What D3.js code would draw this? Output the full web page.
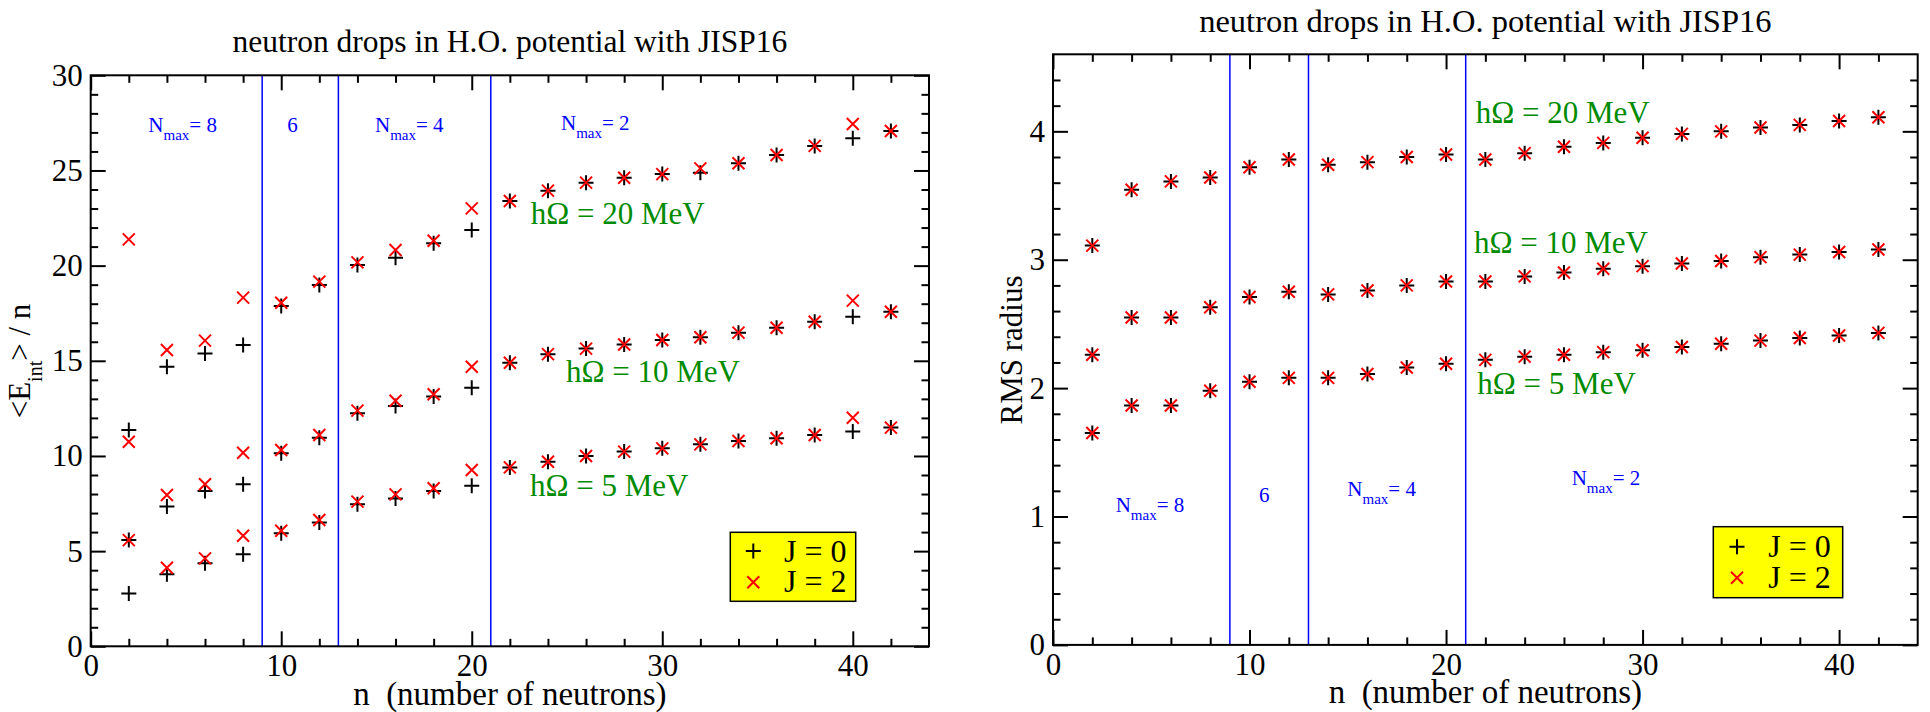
<!DOCTYPE html>
<html>
<head>
<meta charset="utf-8">
<script src="https://cdn.jsdelivr.net/npm/d3@7"></script>
<style>
  body { margin: 0; background: #fff; }
  text { font-family: "Liberation Serif", "Times New Roman", Times, serif; }
</style>
</head>
<body>
<svg id="chart" width="1930" height="712"></svg>
<script>
// Number of neutrons in the drop
const neutrons = [2, 4, 6, 8, 10, 12, 14, 16, 18, 20, 22, 24, 26, 28, 30, 32, 34, 36, 38, 40, 42];

// Internal energy per neutron <E_int>/n (MeV), by oscillator strength and total J
const energy20J0 = [11.36, 14.69, 15.39, 15.83, 17.88, 18.98, 20.03, 20.42, 21.17, 21.87, 23.40, 23.94, 24.36, 24.62, 24.81, 24.88, 25.38, 25.81, 26.29, 26.69, 27.07];
const energy20J2 = [21.38, 15.57, 16.06, 18.32, 18.05, 19.16, 20.17, 20.82, 21.31, 23.01, 23.40, 23.94, 24.36, 24.62, 24.81, 25.11, 25.38, 25.81, 26.29, 27.44, 27.07];
const energy10J0 = [5.58, 7.34, 8.16, 8.51, 10.14, 10.96, 12.24, 12.63, 13.12, 13.59, 14.90, 15.35, 15.64, 15.86, 16.09, 16.24, 16.48, 16.74, 17.05, 17.32, 17.58];
const energy10J2 = [10.75, 7.95, 8.51, 10.17, 10.31, 11.10, 12.38, 12.90, 13.24, 14.69, 14.90, 15.35, 15.64, 15.86, 16.09, 16.24, 16.48, 16.74, 17.05, 18.16, 17.58];
const energy5J0 = [2.78, 3.78, 4.36, 4.83, 5.94, 6.50, 7.46, 7.77, 8.16, 8.44, 9.40, 9.70, 10.00, 10.23, 10.40, 10.61, 10.79, 10.93, 11.10, 11.28, 11.49];
const energy5J2 = [5.58, 4.13, 4.62, 5.81, 6.07, 6.64, 7.60, 7.98, 8.30, 9.26, 9.40, 9.70, 10.00, 10.23, 10.40, 10.61, 10.79, 10.93, 11.10, 12.01, 11.49];

// RMS radius (fm), by oscillator strength and total J
const radius20J0 = [3.11, 3.545, 3.61, 3.64, 3.72, 3.78, 3.74, 3.76, 3.80, 3.82, 3.78, 3.83, 3.88, 3.91, 3.95, 3.98, 4.00, 4.03, 4.05, 4.08, 4.11];
const radius20J2 = [3.11, 3.545, 3.61, 3.64, 3.72, 3.78, 3.74, 3.76, 3.80, 3.82, 3.78, 3.83, 3.88, 3.91, 3.95, 3.98, 4.00, 4.03, 4.05, 4.08, 4.11];
const radius10J0 = [2.26, 2.55, 2.55, 2.63, 2.71, 2.75, 2.73, 2.76, 2.80, 2.83, 2.83, 2.87, 2.90, 2.93, 2.95, 2.97, 2.99, 3.02, 3.04, 3.06, 3.08];
const radius10J2 = [2.26, 2.55, 2.55, 2.63, 2.71, 2.75, 2.73, 2.76, 2.80, 2.83, 2.83, 2.87, 2.90, 2.93, 2.95, 2.97, 2.99, 3.02, 3.04, 3.06, 3.08];
const radius5J0 = [1.65, 1.865, 1.865, 1.98, 2.05, 2.08, 2.08, 2.11, 2.16, 2.19, 2.22, 2.245, 2.26, 2.28, 2.295, 2.32, 2.345, 2.37, 2.39, 2.41, 2.43];
const radius5J2 = [1.65, 1.865, 1.865, 1.98, 2.05, 2.08, 2.08, 2.11, 2.16, 2.19, 2.22, 2.245, 2.26, 2.28, 2.295, 2.32, 2.345, 2.37, 2.39, 2.41, 2.43];

// Boundaries between model-space truncations, and their labels
const nmaxBoundaries = [9, 13, 21];
const nmaxLabels = ["8", "6", "4", "2"];
const hwLabels = ["20", "10", "5"];
const legendLabels = ["J = 0", "J = 2"];

// Tick values
const xMajorTicks = [0, 10, 20, 30, 40];
const xMinorTicks = [2, 4, 6, 8, 12, 14, 16, 18, 22, 24, 26, 28, 32, 34, 36, 38, 42];
const energyMajorTicks = [0, 5, 10, 15, 20, 25, 30];
const energyMinorTicks = [1, 2, 3, 4, 6, 7, 8, 9, 11, 12, 13, 14, 16, 17, 18, 19, 21, 22, 23, 24, 26, 27, 28, 29];
const radiusMajorTicks = [0, 1, 2, 3, 4];
const radiusMinorTicks = [0.2, 0.4, 0.6, 0.8, 1.2, 1.4, 1.6, 1.8, 2.2, 2.4, 2.6, 2.8, 3.2, 3.4, 3.6, 3.8, 4.2, 4.4];

const SERIF = '"Liberation Serif", "Times New Roman", Times, serif';
const GREEN = "rgb(0,139,0)";
const BLUE = "#0000ff";
const FONT = 31;

const svg = d3.select("#chart");
svg.append("rect").attr("width", 1930).attr("height", 712).attr("fill", "#fff");

const plusPath = "M-7.5,0H7.5M0,-7.5V7.5";
const crossPath = "M-6,-6L6,6M-6,6L6,-6";

function serifText(sel) {
  return sel.style("font-family", SERIF);
}

function drawPanel(cfg) {
  const g = svg.append("g");
  const x = d3.scaleLinear().domain([0, 44]).range([cfg.left, cfg.right]);
  const y = d3.scaleLinear().domain([0, cfg.yMax]).range([cfg.bottom, cfg.top]);

  // model-space boundaries
  g.selectAll("line.nmax").data(nmaxBoundaries).join("line")
    .attr("class", "nmax")
    .attr("x1", d => x(d)).attr("x2", d => x(d))
    .attr("y1", cfg.top).attr("y2", cfg.bottom)
    .attr("stroke", BLUE).attr("stroke-width", 1.5);

  // axes: ticks point inward on all four sides
  const styleAxis = sel => {
    sel.select(".domain").remove();
    sel.selectAll("line").attr("stroke", "#000").attr("stroke-width", 2);
    sel.selectAll("text").filter(function () { return !this.textContent; }).remove();
    sel.selectAll("text").attr("font-size", FONT).attr("fill", "#000")
      .style("font-family", SERIF);
  };
  const major = 15, minor = 7.5;

  g.append("g").attr("transform", `translate(0,${cfg.bottom})`)
    .call(d3.axisBottom(x).tickValues(xMajorTicks).tickSize(-major).tickPadding(8).tickFormat(d3.format("d")))
    .call(styleAxis);
  g.append("g").attr("transform", `translate(0,${cfg.bottom})`)
    .call(d3.axisBottom(x).tickValues(xMinorTicks).tickSize(-minor).tickFormat(""))
    .call(styleAxis);
  g.append("g").attr("transform", `translate(0,${cfg.top})`)
    .call(d3.axisTop(x).tickValues(xMajorTicks).tickSize(-major).tickFormat(""))
    .call(styleAxis);
  g.append("g").attr("transform", `translate(0,${cfg.top})`)
    .call(d3.axisTop(x).tickValues(xMinorTicks).tickSize(-minor).tickFormat(""))
    .call(styleAxis);

  g.append("g").attr("transform", `translate(${cfg.left},0)`)
    .call(d3.axisLeft(y).tickValues(cfg.yMajor).tickSize(-major).tickPadding(8).tickFormat(d3.format("d")))
    .call(styleAxis);
  g.append("g").attr("transform", `translate(${cfg.left},0)`)
    .call(d3.axisLeft(y).tickValues(cfg.yMinor).tickSize(-minor).tickFormat(""))
    .call(styleAxis);
  g.append("g").attr("transform", `translate(${cfg.right},0)`)
    .call(d3.axisRight(y).tickValues(cfg.yMajor).tickSize(-major).tickFormat(""))
    .call(styleAxis);
  g.append("g").attr("transform", `translate(${cfg.right},0)`)
    .call(d3.axisRight(y).tickValues(cfg.yMinor).tickSize(-minor).tickFormat(""))
    .call(styleAxis);

  // frame
  g.append("rect")
    .attr("x", cfg.left).attr("y", cfg.top)
    .attr("width", cfg.right - cfg.left).attr("height", cfg.bottom - cfg.top)
    .attr("fill", "none").attr("stroke", "#000").attr("stroke-width", 2);

  // data points: J = 0 as plus, J = 2 as red cross
  const marks = g.append("g");
  cfg.series.forEach(s => {
    marks.selectAll(null).data(s.j0).join("path")
      .attr("d", plusPath)
      .attr("transform", (v, i) => `translate(${x(neutrons[i])},${y(v)})`)
      .attr("stroke", "#000").attr("stroke-width", 2).attr("fill", "none");
  });
  cfg.series.forEach(s => {
    marks.selectAll(null).data(s.j2).join("path")
      .attr("d", crossPath)
      .attr("transform", (v, i) => `translate(${x(neutrons[i])},${y(v)})`)
      .attr("stroke", "#ff0000").attr("stroke-width", 2).attr("fill", "none");
  });

  // title
  g.append("text")
    .attr("x", (cfg.left + cfg.right) / 2).attr("y", cfg.titleY)
    .attr("text-anchor", "middle").attr("font-size", cfg.titleSize)
    .call(serifText)
    .text("neutron drops in H.O. potential with JISP16");

  // x-axis label
  g.append("text")
    .attr("x", (cfg.left + cfg.right) / 2).attr("y", cfg.xLabelY)
    .attr("text-anchor", "middle").attr("font-size", 33)
    .attr("xml:space", "preserve")
    .call(serifText)
    .text("n  (number of neutrons)");

  // N_max labels
  cfg.nmaxPos.forEach((p, i) => {
    const t = g.append("text").attr("x", p[0]).attr("y", p[1])
      .attr("font-size", 21).attr("fill", BLUE).call(serifText);
    if (i === 1) {
      t.text(nmaxLabels[i]);
    } else {
      t.append("tspan").text("N");
      t.append("tspan").attr("font-size", 15).attr("dy", 8.3).text("max");
      t.append("tspan").attr("dy", -8.3).text("= " + nmaxLabels[i]);
    }
  });

  // oscillator-strength labels
  cfg.hwPos.forEach((p, i) => {
    g.append("text").attr("x", p[0]).attr("y", p[1])
      .attr("font-size", FONT).attr("fill", GREEN).call(serifText)
      .text(`hΩ = ${hwLabels[i]} MeV`);
  });

  // legend
  const L = cfg.legend;
  const lg = g.append("g");
  lg.append("rect").attr("x", L.x).attr("y", L.y).attr("width", L.w).attr("height", L.h)
    .attr("fill", "#ffff00").attr("stroke", "#000").attr("stroke-width", 1.5);
  [plusPath, crossPath].forEach((d, i) => {
    lg.append("path").attr("d", d)
      .attr("transform", `translate(${L.symX},${L.symY[i]})`)
      .attr("stroke", i === 0 ? "#000" : "#ff0000").attr("stroke-width", 2).attr("fill", "none");
    lg.append("text").attr("x", L.textX).attr("y", L.textY[i])
      .attr("font-size", 32).call(serifText).text(legendLabels[i]);
  });

  return g;
}

// Left panel: internal energy per neutron
const left = drawPanel({
  left: 90.7, right: 929, top: 75.3, bottom: 646.3,
  yMax: 30, yMajor: energyMajorTicks, yMinor: energyMinorTicks,
  series: [
    { j0: energy20J0, j2: energy20J2 },
    { j0: energy10J0, j2: energy10J2 },
    { j0: energy5J0, j2: energy5J2 }
  ],
  titleY: 52, titleSize: 31.5, xLabelY: 705,
  nmaxPos: [[148.3, 131.7], [287.3, 131.7], [375, 131.7], [561, 129.5]],
  hwPos: [[530.7, 224], [566, 382.3], [530, 496]],
  legend: { x: 730.3, y: 532.3, w: 125.4, h: 69, symX: 753.3, symY: [551, 582.3], textX: 784, textY: [561.7, 592.3] }
});

const eLabel = left.append("text")
  .attr("transform", "translate(30,361) rotate(-90)")
  .attr("text-anchor", "middle").attr("font-size", FONT).call(serifText);
eLabel.append("tspan").text("<E");
eLabel.append("tspan").attr("font-size", 20).attr("dy", 12).text("int");
eLabel.append("tspan").attr("dy", -12).attr("xml:space", "preserve").text("> / n");

// Right panel: RMS radius
const right = drawPanel({
  left: 1053, right: 1917.7, top: 54.3, bottom: 644.9,
  yMax: 4.6, yMajor: radiusMajorTicks, yMinor: radiusMinorTicks,
  series: [
    { j0: radius20J0, j2: radius20J2 },
    { j0: radius10J0, j2: radius10J2 },
    { j0: radius5J0, j2: radius5J2 }
  ],
  titleY: 31.7, titleSize: 32.5, xLabelY: 703.3,
  nmaxPos: [[1115.7, 511.7], [1259, 501.7], [1347.3, 495.7], [1571.7, 485]],
  hwPos: [[1475.7, 122.7], [1474, 253.3], [1477.3, 394.3]],
  legend: { x: 1713.3, y: 526.7, w: 129.4, h: 71, symX: 1737, symY: [546.7, 577.7], textX: 1768.3, textY: [557.3, 588.3] }
});

right.append("text")
  .attr("transform", "translate(1021.5,350) rotate(-90)")
  .attr("text-anchor", "middle").attr("font-size", FONT).call(serifText)
  .text("RMS radius");
</script>
</body>
</html>
